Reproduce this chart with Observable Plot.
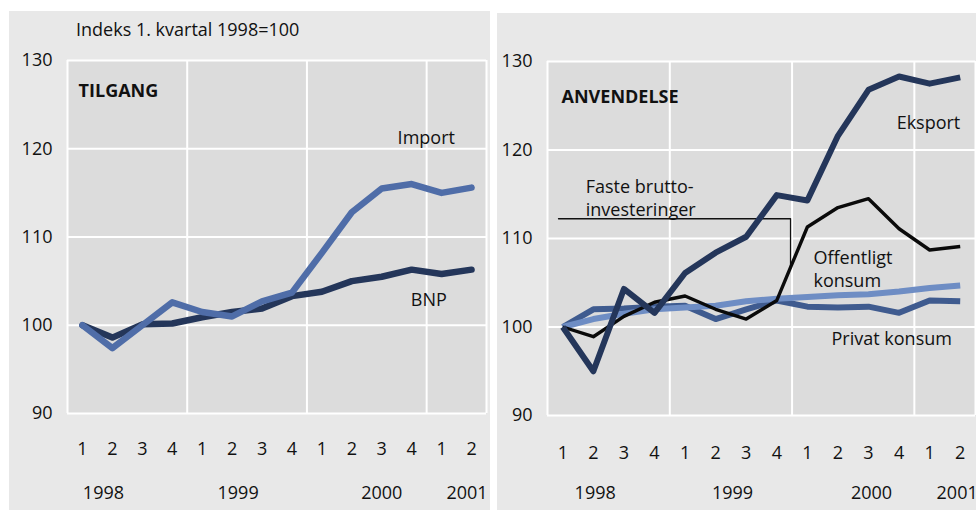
<!DOCTYPE html>
<html><head><meta charset="utf-8">
<script src="https://cdn.jsdelivr.net/npm/d3@7"></script>
<script src="https://cdn.jsdelivr.net/npm/@observablehq/plot@0.6"></script>
<style>
body{margin:0;background:#fff;width:976px;height:510px;overflow:hidden;position:relative;font-family:"Open Sans",sans-serif;}
.panel{position:absolute;background:#e8e8e8;overflow:hidden;}
#left{left:9px;top:11px;width:481px;height:499px;}
#right{left:497px;top:13px;width:479px;height:497px;}
.sub{position:absolute;left:67px;top:6px;font-size:18px;line-height:24px;color:#111;white-space:nowrap;font-family:"Open Sans",sans-serif;}
.panel svg{position:absolute;left:0;top:0;}
</style></head><body>
<div id="left" class="panel"><div class="sub">Indeks 1. kvartal 1998=100</div></div>
<div id="right" class="panel"></div>
<script>
// ---- data ----
const quarters = ["1","2","3","4","1","2","3","4","1","2","3","4","1","2"];
const yTicks = [90, 100, 110, 120, 130];
const yearBreaks = [-0.5, 3.5, 7.5, 11.5, 13.5];

const bnp       = [100, 98.6, 100.1, 100.2, 100.9, 101.5, 101.9, 103.3, 103.8, 105.0, 105.5, 106.3, 105.8, 106.3];
const importV   = [100, 97.4, 100.0, 102.6, 101.5, 101.0, 102.7, 103.7, 108.2, 112.8, 115.5, 116.0, 115.0, 115.6];

const eksport   = [100, 95.0, 104.3, 101.6, 106.1, 108.4, 110.2, 114.9, 114.3, 121.6, 126.8, 128.3, 127.5, 128.2];
const faste     = [100, 98.9, 101.2, 102.8, 103.5, 102.0, 100.9, 103.0, 111.3, 113.5, 114.5, 111.1, 108.7, 109.1];
const offentlig = [100, 100.9, 101.5, 102.0, 102.2, 102.4, 102.9, 103.2, 103.4, 103.6, 103.7, 104.0, 104.4, 104.7];
const privat    = [100, 102.0, 102.1, 102.3, 102.4, 100.9, 102.0, 103.0, 102.3, 102.2, 102.3, 101.6, 103.0, 102.9];

const leftYears  = [{q: 0.7, t: "1998"}, {q: 5.2, t: "1999"}, {q: 10.0, t: "2000"}, {q: 12.85, t: "2001"}];
const rightYears = [{q: 1.06, t: "1998"}, {q: 5.55, t: "1999"}, {q: 10.1, t: "2000"}, {q: 12.9, t: "2001"}];

const leftTitle = [{q: -0.13, v: 126.5, t: "TILGANG"}];
const leftLabels = [
  {q: 10.53, v: 121.4, t: "Import"},
  {q: 10.97, v: 103.0, t: "BNP"}
];
const rightTitle = [{q: -0.04, v: 126.0, t: "ANVENDELSE"}];
const rightLabels = [
  {q: 10.92, v: 123.2, t: "Eksport"},
  {q: 0.75, v: 114.7, t: "Faste brutto-\ninvesteringer"},
  {q: 8.2, v: 106.65, t: "Offentligt\nkonsum"},
  {q: 8.79, v: 98.8, t: "Privat konsum"}
];
const leader = [{q: -0.14, v: 112.23}, {q: 7.45, v: 112.23}, {q: 7.45, v: 106.7}];

// ---- helpers ----
const toPts = arr => arr.map((v, q) => ({q, v}));
const qIdx = d3.range(quarters.length);
const FONT = "'Open Sans', sans-serif";

function makePanel({width, height, margins, tickPad, yearDy, series, title, labels, years, extra = []}) {
  return Plot.plot({
    width, height,
    marginLeft: margins[0], marginRight: margins[1], marginTop: margins[2], marginBottom: margins[3],
    style: {fontFamily: FONT, fontSize: "18px", color: "#111", background: "transparent", overflow: "visible"},
    x: {type: "linear", domain: [-0.5, 13.5]},
    y: {domain: [90, 130]},
    marks: [
      Plot.frame({fill: "#dcdcdc", stroke: null}),
      Plot.ruleY(yTicks, {stroke: "#fff", strokeWidth: 2, strokeOpacity: 1}),
      Plot.ruleX(yearBreaks, {stroke: "#fff", strokeWidth: 2, strokeOpacity: 1}),
      Plot.axisY({ticks: yTicks, tickSize: 0, tickPadding: 15, fontSize: 18, fill: "#111", label: null}),
      Plot.axisX({ticks: qIdx, tickFormat: i => quarters[i], tickSize: 0, tickPadding: tickPad, fontSize: 18, fill: "#111", label: null}),
      Plot.text(years, {x: "q", text: "t", frameAnchor: "bottom", dy: yearDy, lineAnchor: "middle", fontSize: 18, fill: "#111"}),
      ...extra,
      ...series.map(s => Plot.line(toPts(s.values), {x: "q", y: "v", stroke: s.color, strokeWidth: s.width, strokeLinejoin: "round", strokeLinecap: s.cap || "round"})),
      Plot.text(title, {x: "q", y: "v", text: "t", fontWeight: "bold", textAnchor: "start", lineAnchor: "middle", fontSize: 18, fill: "#111"}),
      Plot.text(labels, {x: "q", y: "v", text: "t", textAnchor: "start", lineAnchor: "middle", lineHeight: 1.28, fontSize: 18, fill: "#111"})
    ]
  });
}

const left = makePanel({
  width: 481, height: 499, margins: [58, 4, 49, 97], tickPad: 29, yearDy: 80,
  series: [
    {values: bnp, color: "#24365a", width: 6.5},
    {values: importV, color: "#4f6da8", width: 6.5}
  ],
  title: leftTitle, labels: leftLabels, years: leftYears
});
document.getElementById("left").appendChild(left);

const right = makePanel({
  width: 479, height: 497, margins: [50, 1, 48, 95], tickPad: 31, yearDy: 78,
  series: [
    {values: privat, color: "#3f5b8f", width: 6, cap: "butt"},
    {values: offentlig, color: "#6e8dc4", width: 6, cap: "butt"},
    {values: faste, color: "#0a0a0a", width: 3.4, cap: "butt"},
    {values: eksport, color: "#24365a", width: 6, cap: "butt"}
  ],
  title: rightTitle, labels: rightLabels, years: rightYears,
  extra: [Plot.line(leader, {x: "q", y: "v", stroke: "#111", strokeWidth: 1.3})]
});
document.getElementById("right").appendChild(right);
</script>
</body></html>
